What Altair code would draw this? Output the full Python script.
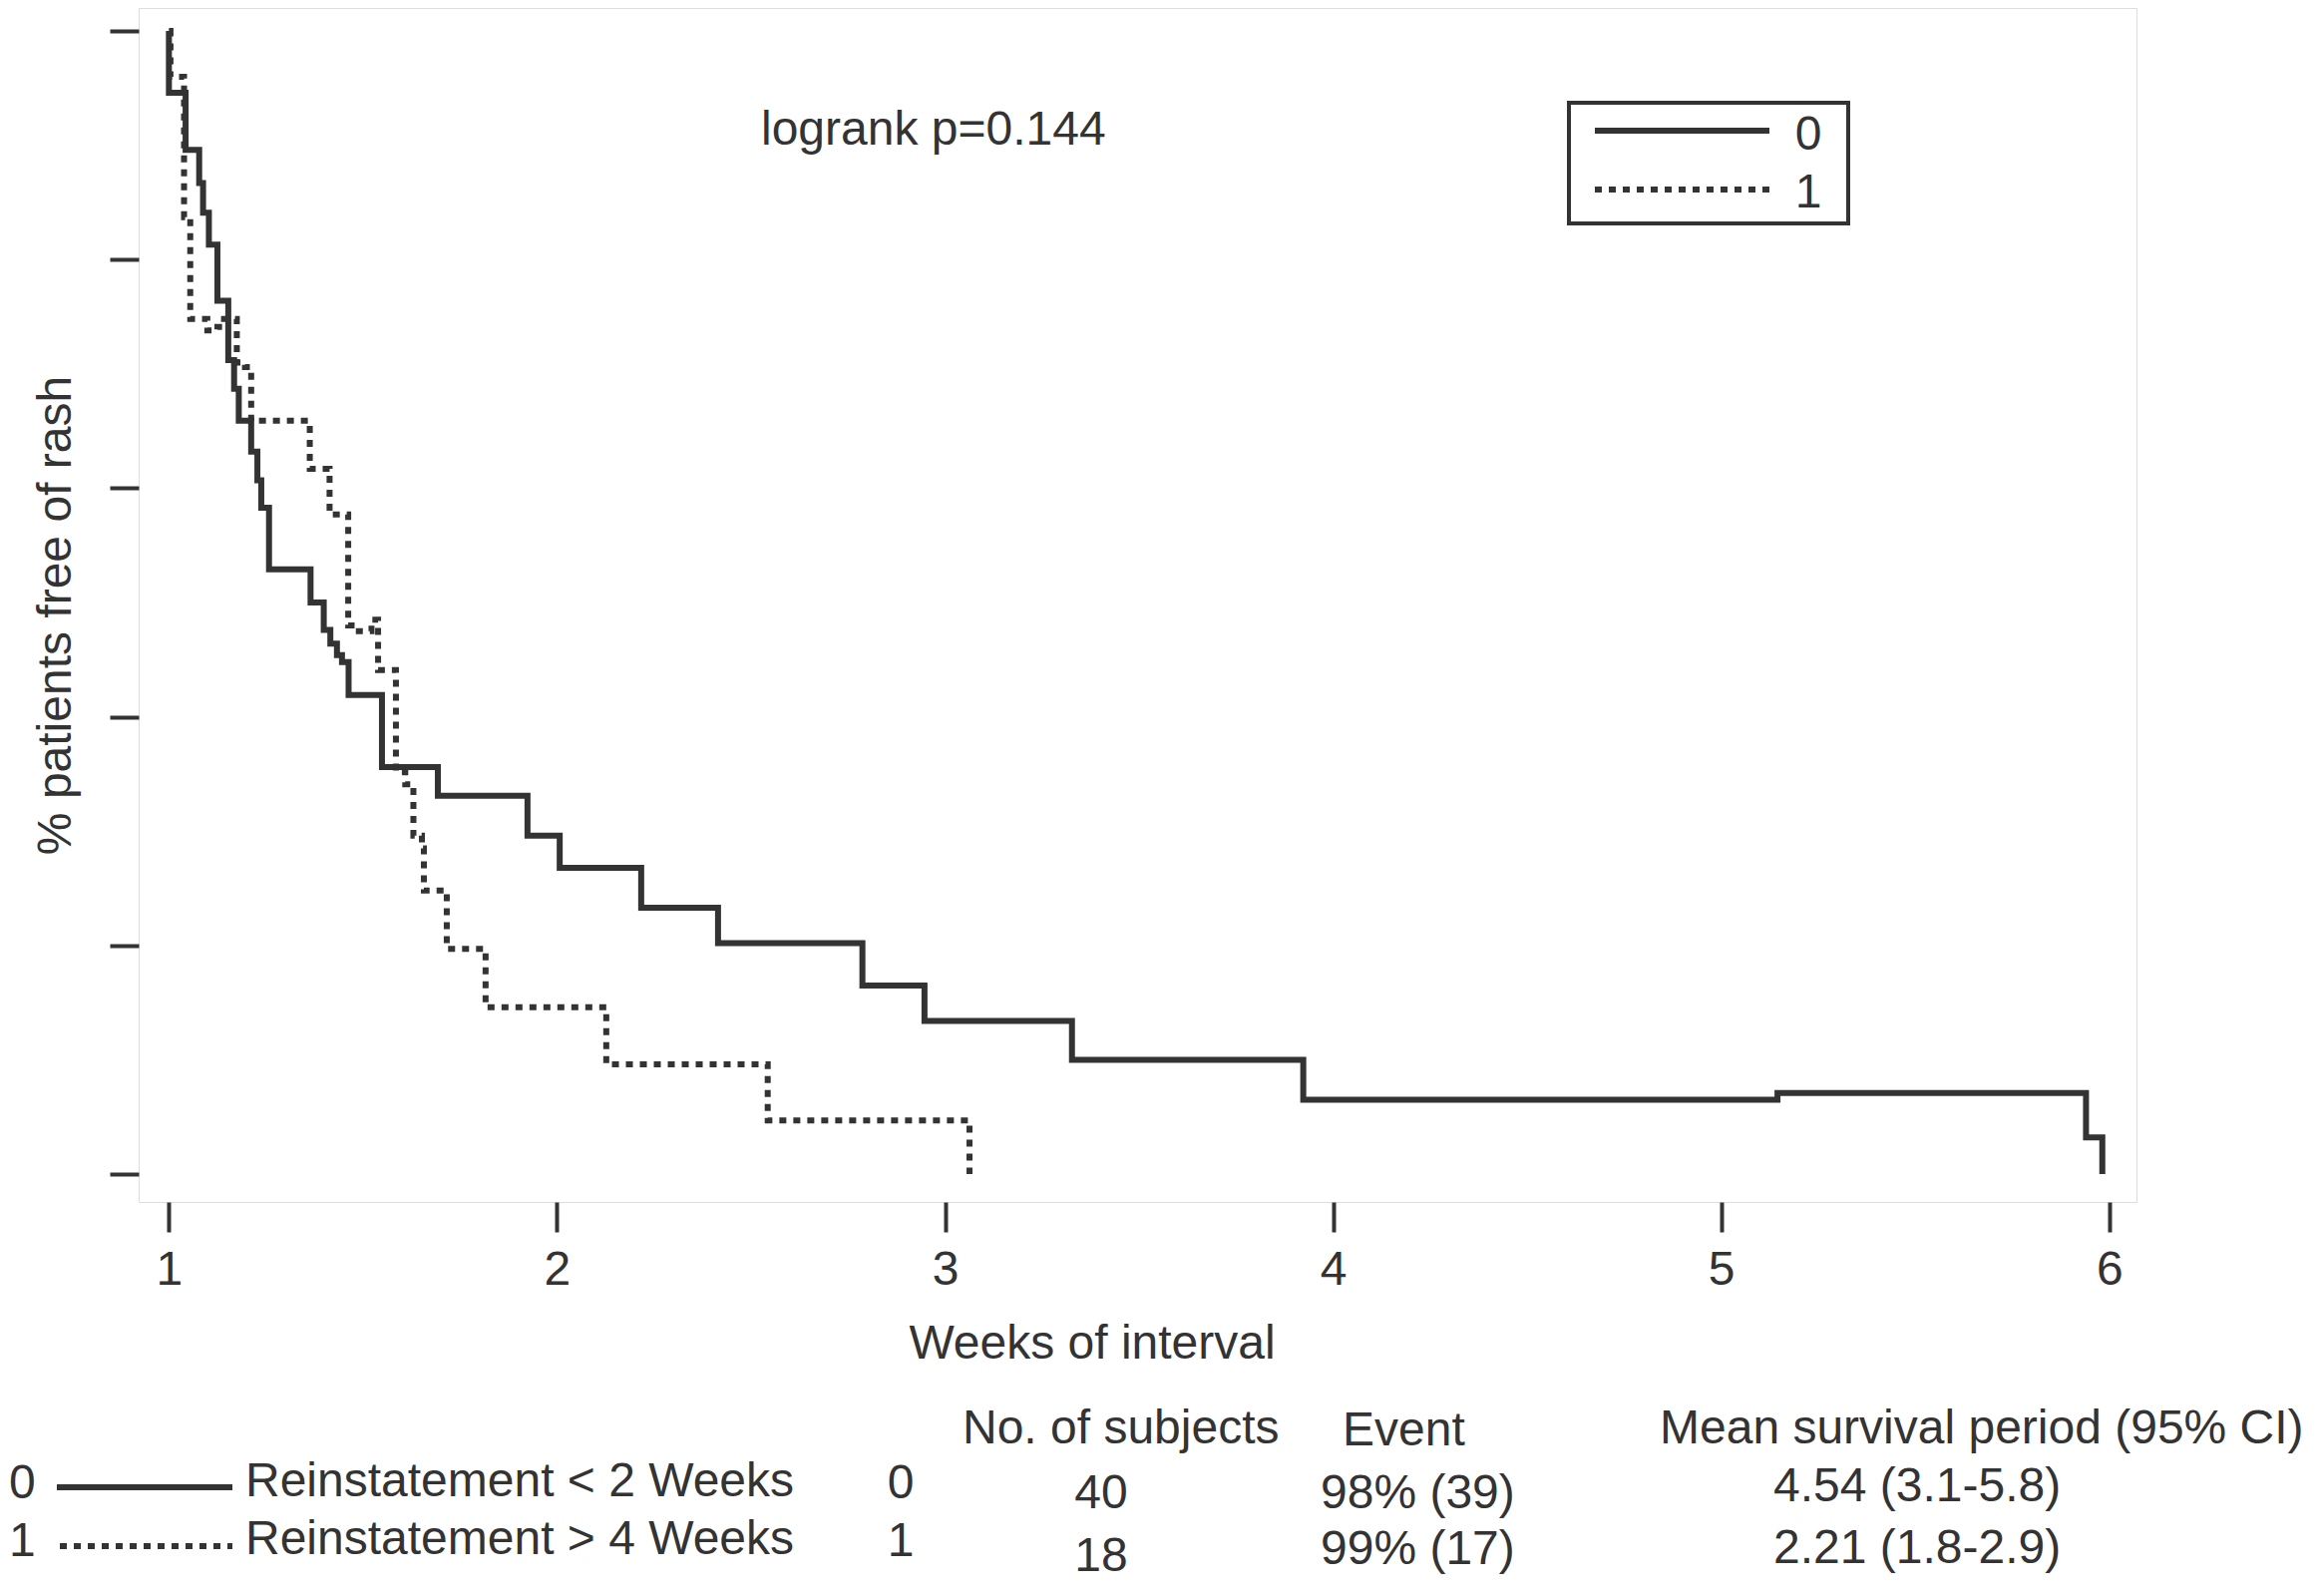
import altair as alt
import pandas as pd

# ---------------- data ----------------
# group 0 (solid): Reinstatement < 2 weeks  -- (time in weeks, survival fraction)
t0 = [1.000, 1.000, 1.043, 1.078, 1.088, 1.103, 1.125, 1.153, 1.168, 1.180, 1.212,
      1.228, 1.238, 1.258, 1.365, 1.399, 1.416, 1.433, 1.446, 1.463, 1.549, 1.693,
      1.924, 2.007, 2.217, 2.415, 2.787, 2.947, 3.327, 3.923, 5.145, 5.940, 5.982]
s0 = [1.000, 0.946, 0.896, 0.867, 0.841, 0.813, 0.764, 0.712, 0.687, 0.659, 0.632,
      0.607, 0.583, 0.529, 0.500, 0.476, 0.464, 0.454, 0.448, 0.419, 0.356, 0.331,
      0.296, 0.268, 0.233, 0.202, 0.165, 0.134, 0.100, 0.065, 0.071, 0.032, 0.000]

# group 1 (dotted): Reinstatement > 4 weeks
t1 = [1.000, 1.004, 1.039, 1.055, 1.099, 1.125, 1.142, 1.175, 1.196, 1.212, 1.363,
      1.414, 1.462, 1.480, 1.522, 1.539, 1.585, 1.609, 1.630, 1.652, 1.657, 1.716,
      1.816, 2.127, 2.543, 3.063]
s1 = [1.000, 0.960, 0.837, 0.748, 0.738, 0.741, 0.748, 0.710, 0.706, 0.659, 0.617,
      0.577, 0.480, 0.475, 0.485, 0.441, 0.352, 0.341, 0.296, 0.285, 0.248, 0.197,
      0.146, 0.096, 0.047, 0.000]

x_ticks = [1, 2, 3, 4, 5, 6]
y_ticks = [0.0, 0.2, 0.4, 0.6, 0.8, 1.0]

group_codes = ["0", "1"]
group_names = ["Reinstatement < 2 Weeks", "Reinstatement > 4 Weeks"]
n_subjects = ["40", "18"]
events = ["98% (39)", "99% (17)"]
mean_survival = ["4.54 (3.1-5.8)", "2.21 (1.8-2.9)"]
table_headers = ["No. of subjects", "Event", "Mean survival period (95% CI)"]
logrank_text = "logrank p=0.144"
x_title = "Weeks of interval"
y_title = "% patients free of rash"

# ---------------- styling ----------------
INK = "#333333"
FONT = "Liberation Sans"
FS = 48
W, H = 2003, 1197

df = pd.concat([
    pd.DataFrame({"t": t0, "s": s0, "g": "0", "i": range(len(t0))}),
    pd.DataFrame({"t": t1, "s": s1, "g": "1", "i": range(len(t1))}),
])

xscale = alt.Scale(domain=[0.922, 6.070], nice=False, zero=False)
yscale = alt.Scale(domain=[-0.0244, 1.0201], nice=False, zero=False)

xaxis = alt.Axis(values=x_ticks, format="d", title=None, grid=False, domain=False,
                 tickSize=30, tickWidth=4, tickColor=INK, labelFontSize=FS,
                 labelFont=FONT, labelColor=INK, labelPadding=14, labelFlush=False)
yaxis = alt.Axis(values=y_ticks, labels=False, title=None, grid=False, domain=False,
                 tickSize=29, tickWidth=4, tickColor=INK)

base = alt.Chart(df).encode(
    x=alt.X("t:Q", scale=xscale, axis=xaxis),
    y=alt.Y("s:Q", scale=yscale, axis=yaxis),
    order=alt.Order("i:Q"),
)
solid = base.transform_filter(alt.datum.g == "0").mark_line(
    interpolate="step-after", color=INK, strokeWidth=6)
dotted = base.transform_filter(alt.datum.g == "1").mark_line(
    interpolate="step-after", color=INK, strokeWidth=6, strokeDash=[7, 7])


def label(text, x, y, align="left", angle=0, baseline="alphabetic", size=FS):
    return alt.Chart(pd.DataFrame({"txt": [text]})).mark_text(
        align=align, baseline=baseline, fontSize=size, font=FONT, color=INK,
        angle=angle).encode(x=alt.value(x), y=alt.value(y), text="txt:N")


def hline(x1, x2, y, dash=None):
    kw = dict(color=INK, strokeWidth=6)
    if dash:
        kw["strokeDash"] = dash
    return alt.Chart(pd.DataFrame({"a": [0]})).mark_rule(**kw).encode(
        x=alt.value(x1), x2=alt.value(x2), y=alt.value(y))


layers = [solid, dotted]

# in-plot annotations
layers.append(label(logrank_text, 624, 137))
layers.append(alt.Chart(pd.DataFrame({"a": [0]})).mark_rect(
    fill="white", stroke=INK, strokeWidth=4).encode(
    x=alt.value(1434), x2=alt.value(1714), y=alt.value(95), y2=alt.value(216)))
layers.append(hline(1460, 1635, 123))
layers.append(hline(1460, 1635, 182, dash=[7, 7]))
layers.append(label(group_codes[0], 1674, 142, align="center"))
layers.append(label(group_codes[1], 1674, 200, align="center"))

# axis titles
layers.append(label(x_title, 956, 1354, align="center"))
layers.append(label(y_title, -68, 609, align="center", angle=270))

# bottom table
layers.append(label(table_headers[0], 826, 1439))
layers.append(label(table_headers[1], 1207, 1441))
layers.append(label(table_headers[2], 1525, 1439))
row_y = [1494, 1552]
for k in range(2):
    layers.append(label(group_codes[k], -130, row_y[k]))
    layers.append(label(group_names[k], 107, row_y[k] - 2))
    layers.append(label(group_codes[k], 764, row_y[k], align="center"))
layers.append(hline(-82, 94, 1483))
layers.append(hline(-79, 94, 1542, dash=[7, 7]))

layers.append(label(n_subjects[0], 965, 1504, align="center"))
layers.append(label(n_subjects[1], 965, 1567, align="center"))
layers.append(label(events[0], 1185, 1504))
layers.append(label(events[1], 1185, 1560))
layers.append(label(mean_survival[0], 1639, 1497))
layers.append(label(mean_survival[1], 1639, 1559))

chart = alt.layer(*layers).properties(
    width=W, height=H,
    autosize=alt.AutoSizeParams(type="none"),
    padding={"left": 131, "top": 0, "right": 172, "bottom": 385},
).configure_view(stroke=INK, strokeWidth=4).configure(font=FONT, background="white")

chart.save("out.html", embed_options={"renderer": "svg", "actions": False})
